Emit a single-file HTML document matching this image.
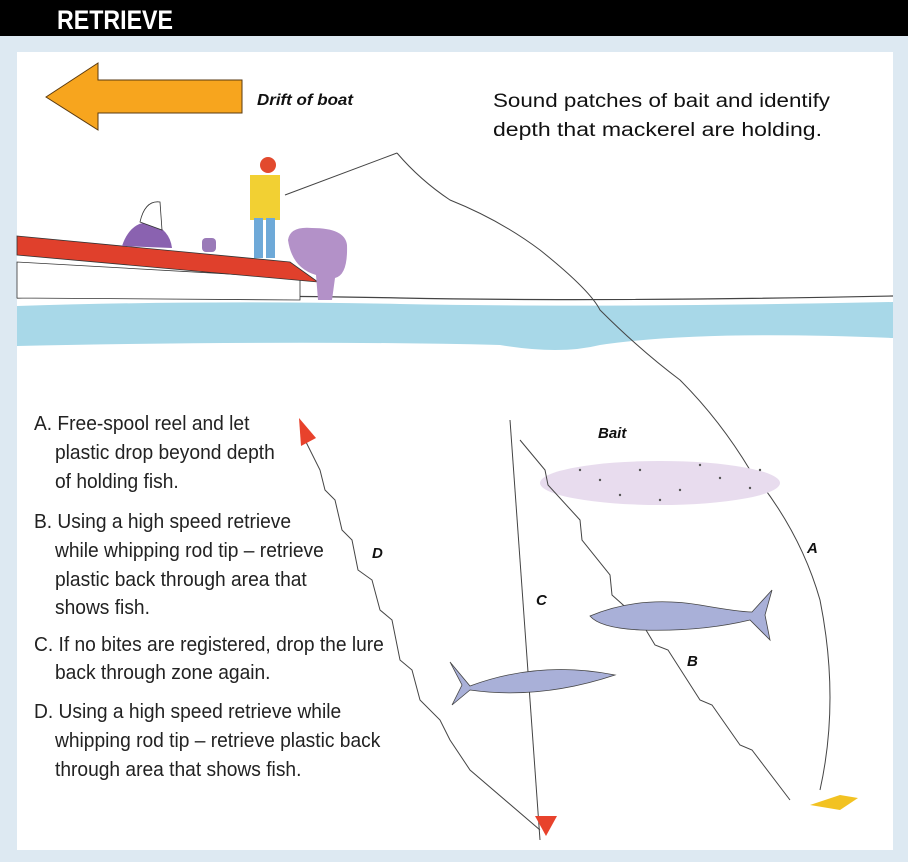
<!DOCTYPE html>
<html><head><style>
html,body{margin:0;padding:0;background:#dde9f2;}
svg{display:block}
</style></head><body>
<svg width="908" height="862" viewBox="0 0 908 862" xmlns="http://www.w3.org/2000/svg">
<rect x="0" y="0" width="908" height="862" fill="#dde9f2"/>
<rect x="0" y="0" width="908" height="36" fill="#000"/>
<text x="57" y="29" font-family="Liberation Sans, sans-serif" font-weight="bold" font-size="27" fill="#fff" textLength="116" lengthAdjust="spacingAndGlyphs">RETRIEVE</text>
<rect x="17" y="52" width="876" height="798" fill="#fff"/>
<polygon points="46,97 98,63 98,80 242,80 242,113 98,113 98,130" fill="#f7a51e" stroke="#5a3a10" stroke-width="1"/>
<text x="257" y="105" font-family="Liberation Sans, sans-serif" font-weight="bold" font-style="italic" font-size="16" fill="#111" textLength="96" lengthAdjust="spacingAndGlyphs">Drift of boat</text>
<text x="493" y="107" font-family="Liberation Sans, sans-serif" font-size="19" fill="#111" textLength="337" lengthAdjust="spacingAndGlyphs">Sound patches of bait and identify</text>
<text x="493" y="136" font-family="Liberation Sans, sans-serif" font-size="19" fill="#111" textLength="329" lengthAdjust="spacingAndGlyphs">depth that mackerel are holding.</text>
<path d="M17,306 Q200,300 400,304 T893,302 L893,338 Q700,330 600,345 Q560,355 500,345 Q300,340 17,346 Z" fill="#a8d8e8"/>
<path d="M17,298 Q200,294 400,298 T893,296" stroke="#444" fill="none" stroke-width="1.2"/>
<path d="M17,262 L17,298 L300,300 L300,278 Z" fill="#fff" stroke="#333" stroke-width="0.8"/>
<path d="M17,236 L290,262 L318,282 L17,255 Z" fill="#e0402c" stroke="#333" stroke-width="0.8"/>
<path d="M122,246 Q130,222 150,222 Q170,230 172,248 Z" fill="#8a62b0"/>
<path d="M140,222 Q145,200 160,202 L162,230 Z" fill="#fff" stroke="#333" stroke-width="0.8"/>
<rect x="202" y="238" width="14" height="14" rx="4" fill="#9a7ab8"/>
<path d="M288,240 Q290,226 312,228 Q345,228 347,245 Q348,275 335,278 L332,300 L318,300 L316,275 Q292,268 288,240 Z" fill="#b391c8"/>
<circle cx="268" cy="165" r="8" fill="#e24a2e"/>
<rect x="250" y="175" width="30" height="45" fill="#f2d033"/>
<rect x="254" y="218" width="9" height="40" fill="#6ea9d8"/>
<rect x="266" y="218" width="9" height="40" fill="#6ea9d8"/>
<line x1="285" y1="195" x2="397" y2="153" stroke="#444" stroke-width="1"/>
<path d="M397,153 Q420,180 450,200 Q500,220 540,250 Q590,290 600,310 Q640,350 680,380 Q720,420 750,470 Q800,530 820,600 Q840,700 820,790" stroke="#444" fill="none" stroke-width="1"/>
<ellipse cx="660" cy="483" rx="120" ry="22" fill="#e8dcee"/>
<g fill="#555"><circle cx="600" cy="480" r="1.2"/><circle cx="640" cy="470" r="1.2"/><circle cx="680" cy="490" r="1.2"/><circle cx="720" cy="478" r="1.2"/><circle cx="620" cy="495" r="1.2"/><circle cx="700" cy="465" r="1.2"/><circle cx="660" cy="500" r="1.2"/><circle cx="750" cy="488" r="1.2"/><circle cx="580" cy="470" r="1.2"/><circle cx="760" cy="470" r="1.2"/></g>
<text x="598" y="438" font-family="Liberation Sans, sans-serif" font-weight="bold" font-style="italic" font-size="15" fill="#111">Bait</text>
<path d="M510,420 L540,840" stroke="#444" fill="none" stroke-width="1"/>
<path d="M520,440 L545,470 L548,485 L580,520 L582,540 L610,575 L612,595 L640,620 L655,645 L668,650 L700,700 L712,705 L740,745 L752,750 L790,800" stroke="#444" fill="none" stroke-width="1"/>
<path d="M305,440 L320,470 L325,490 L335,500 L342,530 L352,540 L358,570 L372,580 L380,610 L392,620 L400,660 L412,670 L420,700 L440,720 L450,740 L470,770 L540,830" stroke="#444" fill="none" stroke-width="1"/>
<polygon points="299,418 316,438 301,446" fill="#e8422c"/>
<polygon points="535,816 557,816 546,836" fill="#e8422c"/>
<path d="M810,805 L840,795 L858,798 L840,810 Z" fill="#f2c222"/>
<path d="M590,616 Q640,595 700,605 Q740,612 752,612 L772,590 L765,615 L770,640 L750,620 Q700,632 640,630 Q600,628 590,616 Z" fill="#a9b0d8" stroke="#444" stroke-width="0.8"/>
<path d="M470,686 Q540,660 615,675 Q540,700 470,690 L452,705 L462,685 L450,662 Z" fill="#a9b0d8" stroke="#444" stroke-width="0.8"/>
<g font-family="Liberation Sans, sans-serif" font-weight="bold" font-style="italic" font-size="15" fill="#111">
<text x="807" y="553">A</text><text x="687" y="666">B</text><text x="536" y="605">C</text><text x="372" y="558">D</text>
</g>
<g font-family="Liberation Sans, sans-serif" font-size="20" fill="#222" transform="scale(0.96,1)">
<text x="35.4" y="430">A. Free-spool reel and let</text>
<text x="57.3" y="459">plastic drop beyond depth</text>
<text x="57.3" y="488">of holding fish.</text>
<text x="35.4" y="528">B. Using a high speed retrieve</text>
<text x="57.3" y="557">while whipping rod tip – retrieve</text>
<text x="57.3" y="586">plastic back through area that</text>
<text x="57.3" y="614">shows fish.</text>
<text x="35.4" y="651">C. If no bites are registered, drop the lure</text>
<text x="57.3" y="679">back through zone again.</text>
<text x="35.4" y="718">D. Using a high speed retrieve while</text>
<text x="57.3" y="747">whipping rod tip – retrieve plastic back</text>
<text x="57.3" y="776">through area that shows fish.</text>
</g>
</svg>
</body></html>
